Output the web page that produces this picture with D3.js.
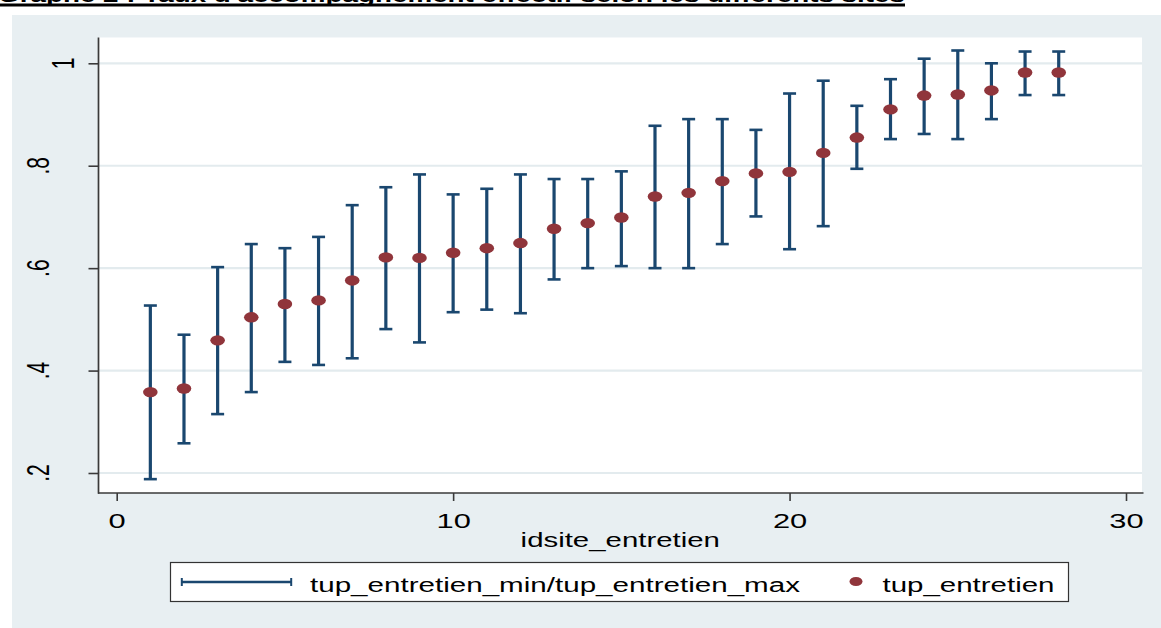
<!DOCTYPE html>
<html>
<head>
<meta charset="utf-8">
<script src="https://cdn.jsdelivr.net/npm/d3@7"></script>
<style>
  html, body { margin: 0; padding: 0; background: #ffffff; }
  svg { display: block; }
  text { font-family: "Liberation Sans", Arial, sans-serif; }
</style>
</head>
<body>
<svg id="chart" width="1161" height="628"></svg>
<script>
// ---- data ----
const idsite = [1,2,3,4,5,6,7,8,9,10,11,12,13,14,15,16,17,18,19,20,21,22,23,24,25,26,27,28];
const tupEntretien = [0.358,0.365,0.459,0.504,0.530,0.537,0.576,0.621,0.620,0.630,0.639,0.649,0.677,0.688,0.699,0.740,0.747,0.770,0.785,0.788,0.825,0.855,0.910,0.937,0.939,0.947,0.982,0.982];
const tupMin = [0.188,0.258,0.315,0.358,0.417,0.411,0.424,0.481,0.455,0.514,0.519,0.512,0.578,0.600,0.604,0.600,0.600,0.647,0.701,0.637,0.682,0.794,0.852,0.862,0.852,0.891,0.938,0.938];
const tupMax = [0.527,0.470,0.602,0.647,0.639,0.661,0.723,0.758,0.783,0.744,0.755,0.783,0.774,0.774,0.789,0.878,0.891,0.891,0.870,0.941,0.966,0.917,0.969,1.009,1.025,1.000,1.023,1.023];
const xTicks = [0,10,20,30];
const yTicks = [0.2,0.4,0.6,0.8,1];
const yTickLabels = [".2",".4",".6",".8","1"];
const titleText = "Graphe 2 : Taux d'accompagnement effectif selon les différents sites";
const xTitle = "idsite_entretien";
const legendLabels = ["tup_entretien_min/tup_entretien_max", "tup_entretien"];

// ---- styles ----
const navy = "#1a476f", maroon = "#90353b", bg = "#e8eff2", grid = "#e3ebee", axisCol = "#3a3a3a";
const SX = 1.47; // horizontal stretch of the original image

const svg = d3.select("#chart");

// scales
const x = d3.scaleLinear().domain([0, 30]).range([116.7, 1126]);
const y = d3.scaleLinear().domain([0.2, 1]).range([473, 63.3]);
const plot = {left: 98.5, right: 1142, top: 37.5, bottom: 493};

// title (cut off at top in the reference)
svg.append("text")
  .attr("x", -2).attr("y", 2)
  .attr("font-size", 20).attr("font-weight", "bold")
  .attr("textLength", 907).attr("lengthAdjust", "spacingAndGlyphs")
  .attr("fill", "#000")
  .text(titleText);
svg.append("rect").attr("x", 0).attr("y", 3.5).attr("width", 905).attr("height", 3).attr("fill", "#000");

// graph region background
svg.append("rect").attr("x", 12).attr("y", 15).attr("width", 1161 - 12).attr("height", 628 - 15).attr("fill", bg);

// plot region
svg.append("rect").attr("x", plot.left).attr("y", plot.top)
  .attr("width", plot.right - plot.left).attr("height", plot.bottom - plot.top).attr("fill", "#ffffff");

// gridlines
svg.append("g").selectAll("line").data(yTicks).join("line")
  .attr("x1", plot.left).attr("x2", plot.right)
  .attr("y1", d => y(d)).attr("y2", d => y(d))
  .attr("stroke", grid).attr("stroke-width", 2.2);

// error bars
const eb = svg.append("g");
eb.selectAll("line.v").data(idsite).join("line").attr("class", "v")
  .attr("x1", (d) => x(d)).attr("x2", (d) => x(d))
  .attr("y1", (d, i) => y(tupMin[i])).attr("y2", (d, i) => y(tupMax[i]))
  .attr("stroke", navy).attr("stroke-width", 3.2);
eb.selectAll("line.top").data(idsite).join("line").attr("class", "top")
  .attr("x1", d => x(d) - 6.5).attr("x2", d => x(d) + 6.5)
  .attr("y1", (d, i) => y(tupMax[i])).attr("y2", (d, i) => y(tupMax[i]))
  .attr("stroke", navy).attr("stroke-width", 2.6);
eb.selectAll("line.bot").data(idsite).join("line").attr("class", "bot")
  .attr("x1", d => x(d) - 6.5).attr("x2", d => x(d) + 6.5)
  .attr("y1", (d, i) => y(tupMin[i])).attr("y2", (d, i) => y(tupMin[i]))
  .attr("stroke", navy).attr("stroke-width", 2.6);

// markers
svg.append("g").selectAll("ellipse").data(idsite).join("ellipse")
  .attr("cx", d => x(d)).attr("cy", (d, i) => y(tupEntretien[i]))
  .attr("rx", 7.3).attr("ry", 5.2).attr("fill", maroon);

// x axis
const xAxis = svg.append("g").attr("transform", `translate(0,${plot.bottom})`)
  .call(d3.axisBottom(x).tickValues(xTicks).tickSize(8).tickSizeOuter(0).tickFormat(d3.format("d")));
xAxis.select(".domain").remove();
xAxis.selectAll(".tick line").attr("stroke", axisCol).attr("stroke-width", 1.6);
xAxis.selectAll(".tick text")
  .attr("y", null).attr("dy", null)
  .attr("transform", `translate(0,34.5) scale(${SX},1)`)
  .attr("font-size", 21).attr("fill", "#000").attr("text-anchor", "middle");
svg.append("line").attr("x1", plot.left - 0.5).attr("x2", 1143.5)
  .attr("y1", plot.bottom).attr("y2", plot.bottom).attr("stroke", axisCol).attr("stroke-width", 1.7);

// y axis
const yAxis = svg.append("g").attr("transform", `translate(${plot.left},0)`)
  .call(d3.axisLeft(y).tickValues(yTicks).tickSize(10).tickSizeOuter(0).tickFormat((d, i) => yTickLabels[i]));
yAxis.select(".domain").remove();
yAxis.selectAll(".tick line").attr("stroke", axisCol).attr("stroke-width", 1.6);
yAxis.selectAll(".tick text").remove();
svg.append("line").attr("x1", plot.left).attr("x2", plot.left)
  .attr("y1", plot.top).attr("y2", plot.bottom + 0.8).attr("stroke", axisCol).attr("stroke-width", 1.7);
svg.append("g").selectAll("text").data(yTicks).join("text")
  .attr("transform", (d, i) => {
    const bx = yTickLabels[i].startsWith(".") ? 49 : 74;
    return `translate(${bx},${y(d)}) scale(${SX},1) rotate(-90)`;
  })
  .attr("text-anchor", "middle").attr("font-size", 21).attr("fill", "#000")
  .text((d, i) => yTickLabels[i]);

// x axis title
svg.append("text")
  .attr("transform", `translate(${(plot.left + plot.right) / 2},546.5) scale(${SX},1)`)
  .attr("text-anchor", "middle").attr("font-size", 20).attr("fill", "#000")
  .text(xTitle);

// legend
const lg = svg.append("g");
lg.append("rect").attr("x", 170.5).attr("y", 562.5).attr("width", 898).attr("height", 39)
  .attr("fill", "#fff").attr("stroke", "#333").attr("stroke-width", 1.2);
lg.append("line").attr("x1", 181).attr("x2", 292).attr("y1", 582).attr("y2", 582)
  .attr("stroke", navy).attr("stroke-width", 2.4);
[181.8, 291.2].forEach(cx => {
  lg.append("line").attr("x1", cx).attr("x2", cx).attr("y1", 578).attr("y2", 586)
    .attr("stroke", navy).attr("stroke-width", 2);
});
lg.append("text").attr("x", 310).attr("y", 591.5)
  .attr("font-size", 20).attr("textLength", 490).attr("lengthAdjust", "spacingAndGlyphs")
  .attr("fill", "#000").text(legendLabels[0]);
lg.append("ellipse").attr("cx", 856).attr("cy", 581.5).attr("rx", 6.5).attr("ry", 4.6).attr("fill", maroon);
lg.append("text").attr("x", 882.5).attr("y", 591.5)
  .attr("font-size", 20).attr("textLength", 172).attr("lengthAdjust", "spacingAndGlyphs")
  .attr("fill", "#000").text(legendLabels[1]);
</script>
</body>
</html>
